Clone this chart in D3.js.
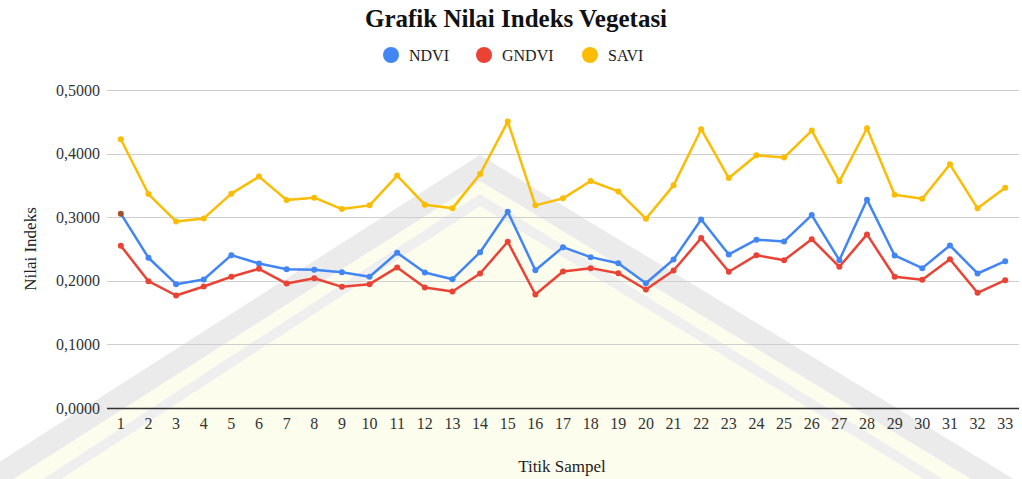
<!DOCTYPE html>
<html>
<head>
<meta charset="utf-8">
<script src="https://cdn.jsdelivr.net/npm/d3@7"></script>
<style>
  body { margin: 0; background: #fff; }
  text { font-family: "Liberation Serif", "DejaVu Serif", serif; }
</style>
</head>
<body>
<div id="chart"></div>
<script>
// data
var titik = d3.range(1, 34);
var ndvi = [0.3055, 0.2362, 0.1947, 0.2020, 0.2403, 0.2272, 0.2183, 0.2173, 0.2136, 0.2063, 0.2440,
            0.2131, 0.2025, 0.2450, 0.3087, 0.2167, 0.2529, 0.2372, 0.2277, 0.1962, 0.2335, 0.2965,
            0.2414, 0.2646, 0.2619, 0.3033, 0.2324, 0.3276, 0.2398, 0.2199, 0.2556, 0.2115, 0.2309];
var gndvi = [0.2551, 0.1994, 0.1769, 0.1910, 0.2063, 0.2189, 0.1957, 0.2041, 0.1905, 0.1947, 0.2210,
             0.1894, 0.1831, 0.2115, 0.2614, 0.1784, 0.2146, 0.2199, 0.2120, 0.1863, 0.2162, 0.2671,
             0.2142, 0.2403, 0.2324, 0.2655, 0.2220, 0.2729, 0.2063, 0.2016, 0.2340, 0.1811, 0.2010];
var savi = [0.4225, 0.3364, 0.2934, 0.2981, 0.3370, 0.3638, 0.3270, 0.3307, 0.3128, 0.3186, 0.3654,
            0.3197, 0.3139, 0.3679, 0.4504, 0.3186, 0.3296, 0.3569, 0.3406, 0.2976, 0.3501, 0.4383,
            0.3616, 0.3973, 0.3937, 0.4362, 0.3564, 0.4398, 0.3354, 0.3291, 0.3831, 0.3139, 0.3465];
var yTicks = [0, 0.1, 0.2, 0.3, 0.4, 0.5];

var series = [
  {name: "NDVI", values: ndvi, color: "#4285f4"},
  {name: "GNDVI", values: gndvi, color: "#ea4335"},
  {name: "SAVI", values: savi, color: "#fbbc04"}
];

var W = 1022, H = 479;
var margin = {top: 90, right: 3, bottom: 71, left: 107};
var width = W - margin.left - margin.right,
    height = H - margin.top - margin.bottom;

var svg = d3.select("#chart").append("svg")
    .attr("width", W)
    .attr("height", H);

// faint watermark (roof shape) in the background
var wm = svg.append("g").attr("class", "watermark");
wm.append("polygon")
    .attr("points", "480,160 -60,520 1080,520")
    .attr("fill", "#fdfdee");
wm.append("polyline")
    .attr("points", "-40,500 480,168 1060,520")
    .attr("fill", "none")
    .attr("stroke", "#ebebeb")
    .attr("stroke-width", 22);
wm.append("polyline")
    .attr("points", "20,500 480,200 1000,520")
    .attr("fill", "none")
    .attr("stroke", "#efefef")
    .attr("stroke-width", 10);

var g = svg.append("g")
    .attr("transform", "translate(" + margin.left + "," + margin.top + ")");

var x = d3.scaleBand()
    .domain(titik)
    .range([0, width]);
var y = d3.scaleLinear()
    .domain([0, 0.5])
    .range([height, 0]);

// grid lines
g.selectAll(".grid")
    .data(yTicks)
    .enter().append("line")
    .attr("class", "grid")
    .attr("x1", 0)
    .attr("x2", width)
    .attr("y1", function(d) { return Math.round(y(d)) + 0.5; })
    .attr("y2", function(d) { return Math.round(y(d)) + 0.5; })
    .attr("stroke", function(d) { return d === 0 ? "#333" : "#cfcfcf"; })
    .attr("stroke-width", function(d) { return d === 0 ? 1.5 : 1; });

var yAxis = d3.axisLeft(y)
    .tickValues(yTicks)
    .tickSize(0)
    .tickPadding(7)
    .tickFormat(function(d) { return d3.format(".4f")(d).replace(".", ","); });
g.append("g")
    .attr("class", "y axis")
    .call(yAxis)
    .call(function(s) { s.select(".domain").remove(); })
    .selectAll("text")
    .attr("font-size", 16)
    .attr("fill", "#333")
    .attr("font-family", "Liberation Serif");

var xAxis = d3.axisBottom(x)
    .tickSize(0)
    .tickPadding(10);
g.append("g")
    .attr("class", "x axis")
    .attr("transform", "translate(0," + height + ")")
    .call(xAxis)
    .call(function(s) { s.select(".domain").remove(); })
    .selectAll("text")
    .attr("font-size", 16)
    .attr("fill", "#333")
    .attr("font-family", "Liberation Serif");

var line = d3.line()
    .x(function(d, i) { return x(titik[i]) + x.bandwidth() / 2; })
    .y(function(d) { return y(d); });

series.forEach(function(s) {
  g.append("path")
      .datum(s.values)
      .attr("fill", "none")
      .attr("stroke", s.color)
      .attr("stroke-width", 2.5)
      .attr("stroke-linejoin", "round")
      .attr("d", line);
  g.selectAll(".pt-" + s.name)
      .data(s.values)
      .enter().append("circle")
      .attr("cx", function(d, i) { return x(titik[i]) + x.bandwidth() / 2; })
      .attr("cy", function(d) { return y(d); })
      .attr("r", 3)
      .attr("fill", function(d, i) { return (s.name === "NDVI" && i === 0) ? "#a0522d" : s.color; });
});

// title
svg.append("text")
    .attr("x", 516)
    .attr("y", 27)
    .attr("text-anchor", "middle")
    .attr("font-size", 25)
    .attr("font-weight", "bold")
    .attr("fill", "#111")
    .text("Grafik Nilai Indeks Vegetasi");

// legend
var legendX = [391, 484, 590];
var lg = svg.selectAll(".legend")
    .data(series)
    .enter().append("g")
    .attr("class", "legend")
    .attr("transform", function(d, i) { return "translate(" + legendX[i] + ",55)"; });
lg.append("circle")
    .attr("r", 8)
    .attr("fill", function(d) { return d.color; });
lg.append("text")
    .attr("x", 18)
    .attr("dy", "0.35em")
    .attr("font-size", 16)
    .attr("fill", "#222")
    .text(function(d) { return d.name; });

// axis titles
svg.append("text")
    .attr("transform", "translate(36," + (margin.top + height / 2) + ") rotate(-90)")
    .attr("text-anchor", "middle")
    .attr("font-size", 17)
    .attr("fill", "#222")
    .text("Nilai Indeks");
svg.append("text")
    .attr("x", 562)
    .attr("y", 472)
    .attr("text-anchor", "middle")
    .attr("font-size", 17)
    .attr("fill", "#222")
    .text("Titik Sampel");
</script>
</body>
</html>
